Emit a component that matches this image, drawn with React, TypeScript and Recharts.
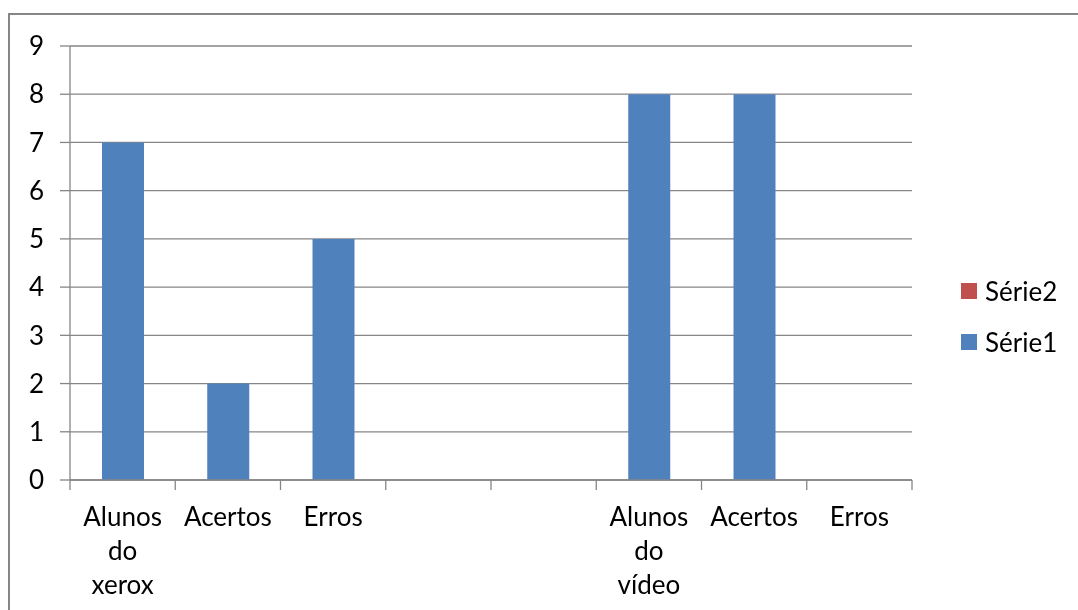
import React from "react";
import { BarChart, Bar, XAxis, YAxis, CartesianGrid, Legend } from "recharts";

const categories = ["Alunos do xerox", "Acertos", "Erros", "", "", "Alunos do vídeo", "Acertos", "Erros"];
const serie1 = [7, 2, 5, 0, 0, 8, 8, 0];
const serie2 = [0, 0, 0, 0, 0, 0, 0, 0];
const yTicks = [0, 1, 2, 3, 4, 5, 6, 7, 8, 9];

const data = categories.map((c, i) => ({ name: c, s1: serie1[i], s2: serie2[i] }));

const FONT = "Lato, 'Open Sans', sans-serif";
const GRAY = "#868686";
const BLUE = "#4F81BD";
const RED = "#C0504D";

const CatTick = (props: any) => {
  const { x, y, payload, index, visibleTicksCount } = props;
  const half = payload && typeof payload.offset === "number" ? payload.offset : 0;
  const words = String(payload.value).split(" ").filter((w: string) => w.length > 0);
  const isLast = index === (visibleTicksCount ?? categories.length) - 1;
  return (
    <g>
      <line x1={x - half} x2={x - half} y1={y} y2={y + 10} stroke={GRAY} strokeWidth={1.3} />
      {isLast && <line x1={x + half} x2={x + half} y1={y} y2={y + 10} stroke={GRAY} strokeWidth={1.3} />}
      <text x={x} y={y} textAnchor="middle" fontFamily={FONT} fontSize={26} fill="#000">
        {words.map((w: string, i: number) => (
          <tspan key={i} x={x} y={y + 46 + i * 34}>
            {w}
          </tspan>
        ))}
      </text>
    </g>
  );
};

const LegendContent = () => {
  const items = [
    { label: "Série2", color: RED },
    { label: "Série1", color: BLUE },
  ];
  return (
    <div style={{ fontFamily: FONT, fontSize: 26, color: "#000" }}>
      {items.map((it) => (
        <div key={it.label} style={{ display: "flex", alignItems: "center", height: 16, marginBottom: 35, whiteSpace: "nowrap" }}>
          <div style={{ width: 16, height: 16, background: it.color, marginRight: 8 }} />
          <span style={{ lineHeight: "16px" }}>{it.label}</span>
        </div>
      ))}
    </div>
  );
};

export default function App() {
  return (
    <div>
      <style>{"html,body{overflow:hidden}"}</style>
      <div
        style={{
          position: "fixed",
          left: 8,
          top: 13,
          right: -20,
          bottom: -20,
          borderTop: `2px solid ${GRAY}`,
          borderLeft: `2px solid ${GRAY}`,
        }}
      />
      <div style={{ position: "fixed", left: 10, top: 15 }}>
        <BarChart
          width={1066}
          height={590}
          data={data}
          margin={{ top: 31, right: 164, bottom: 0, left: 0 }}
          barSize={42}
        >
          <CartesianGrid vertical={false} stroke={GRAY} strokeWidth={1.3} />
          <XAxis
            dataKey="name"
            type="category"
            height={125}
            tickSize={0}
            tickMargin={0}
            axisLine={{ stroke: GRAY, strokeWidth: 1.3 }}
            tickLine={false}
            interval={0}
            tick={<CatTick />}
            allowDuplicatedCategory
          />
          <YAxis
            domain={[0, 9]}
            ticks={yTicks}
            width={60}
            tickSize={10}
            tickMargin={16}
            axisLine={{ stroke: GRAY, strokeWidth: 1.3 }}
            tickLine={{ stroke: GRAY, strokeWidth: 1.3 }}
            tick={{ fontFamily: FONT, fontSize: 26, fill: "#000" }}
            interval={0}
          />
          <Legend
            layout="horizontal"
            verticalAlign="middle"
            content={<LegendContent />}
            wrapperStyle={{ position: "absolute", left: 951, top: 268, width: 110 }}
          />
          <Bar dataKey="s1" name="Série1" stackId="a" fill={BLUE} isAnimationActive={false} />
          <Bar dataKey="s2" name="Série2" stackId="a" fill={RED} isAnimationActive={false} />
        </BarChart>
      </div>
    </div>
  );
}
